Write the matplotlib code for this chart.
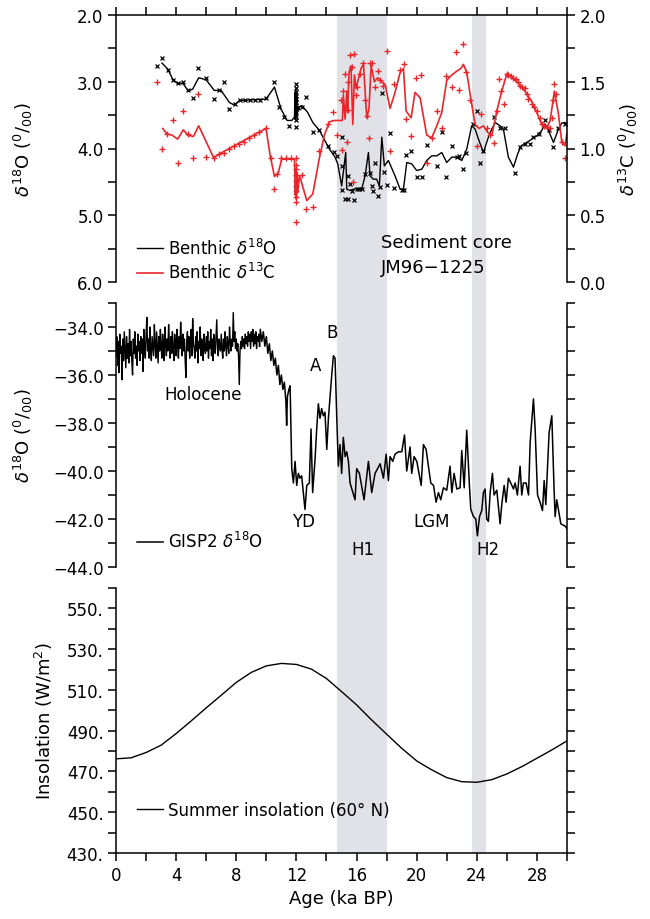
#!/usr/bin/env python3
#
# Benthic isotopes (JM96-1225), GISP2 d18O and 60N summer insolation, last 30 ka
#
# Outputs: out.png

import numpy as np
import matplotlib
matplotlib.use('Agg')
import matplotlib.pyplot as plt
from matplotlib.patches import Rectangle
from matplotlib.lines import Line2D
from matplotlib import transforms
from matplotlib.ticker import FixedLocator, FuncFormatter

# ---- Heinrich events (ka BP) ----
heinrich_events = [(14.7, 18.0), (23.7, 24.6)]

# ---- Sediment core, benthic d18O: smoothed line ----
o18_line_age = [3.06, 3.44, 3.77, 4.10, 4.44, 4.81, 5.10, 5.50, 5.99, 6.54,
                6.99, 7.54, 7.87, 8.21, 9.98, 10.54, 10.98, 11.38, 11.69, 11.87,
                11.91, 11.93, 11.95, 11.98, 12.00, 12.02, 12.04, 12.07, 12.11, 12.38,
                12.75, 13.09, 13.53, 14.20, 14.57, 14.75, 15.01, 15.28, 15.35, 15.57,
                15.79, 16.01, 16.34, 16.57, 16.79, 16.90, 17.12, 17.34, 17.52, 17.68,
                17.85, 18.12, 18.56, 18.90, 19.12, 19.34, 19.67, 20.00, 20.34, 20.67,
                21.00, 21.34, 21.67, 22.00, 22.33, 22.67, 23.00, 23.33, 23.66, 23.89,
                24.11, 24.44, 24.77, 25.00, 25.22, 25.55, 25.77, 26.10, 26.44, 26.72,
                26.95, 27.32, 27.66, 27.99, 28.32, 28.54, 28.77, 29.10, 29.43, 29.65,
                29.87, 30.00]
o18_line_val = [2.72, 2.81, 2.96, 3.03, 3.02, 3.14, 3.11, 2.94, 2.97, 3.13,
                3.13, 3.31, 3.35, 3.28, 3.26, 3.08, 3.41, 3.58, 3.58, 3.53,
                3.16, 3.56, 3.11, 3.53, 3.18, 3.51, 3.23, 3.46, 3.38, 3.36,
                3.46, 3.61, 3.73, 4.01, 4.13, 4.23, 4.56, 4.06, 4.61, 4.63,
                4.61, 4.60, 4.61, 4.41, 4.06, 4.41, 4.46, 4.46, 4.56, 3.83,
                4.26, 4.18, 4.41, 4.61, 4.61, 4.21, 4.23, 4.33, 4.31, 4.18,
                4.11, 4.11, 4.06, 4.21, 4.13, 4.13, 4.18, 4.01, 3.66, 3.71,
                3.86, 4.06, 3.83, 3.71, 3.61, 3.66, 3.71, 4.13, 4.28, 4.08,
                3.96, 3.91, 3.86, 3.81, 3.73, 3.63, 3.73, 3.91, 3.71, 3.62,
                3.61, 3.66]

# ---- benthic d18O: measurements ----
o18_pt_age = [2.71, 3.06, 3.44, 3.77, 4.10, 4.44, 4.77, 5.15, 5.48, 5.99,
              6.50, 6.88, 7.16, 7.54, 7.92, 8.25, 8.58, 8.91, 9.25, 9.58,
              9.98, 10.51, 10.87, 11.20, 11.53, 11.98, 11.98, 11.98, 11.98, 11.98,
              11.98, 11.98, 11.98, 11.98, 11.98, 11.98, 11.98, 12.10, 12.38, 12.64,
              13.09, 13.53, 14.08, 14.53, 14.68, 15.01, 15.06, 15.01, 15.24, 15.41,
              15.46, 15.57, 15.68, 15.86, 16.01, 16.17, 16.34, 16.57, 16.90, 17.01,
              17.12, 17.25, 17.41, 17.56, 17.68, 17.83, 18.01, 18.23, 18.52, 19.01,
              19.18, 19.27, 19.63, 20.00, 20.34, 20.67, 21.34, 21.71, 21.93, 22.38,
              22.67, 22.82, 23.09, 23.26, 23.77, 23.99, 24.22, 24.44, 25.17, 25.55,
              25.88, 26.55, 26.88, 27.21, 27.55, 27.77, 28.14, 28.54, 28.77, 29.10,
              29.39, 29.87]
o18_pt_val = [2.77, 2.65, 2.83, 2.97, 3.02, 3.01, 3.13, 3.24, 2.79, 2.94,
              3.26, 3.13, 3.01, 3.41, 3.33, 3.27, 3.27, 3.27, 3.27, 3.27,
              3.25, 3.00, 3.38, 3.53, 3.66, 3.03, 3.10, 3.16, 3.21, 3.26,
              3.31, 3.36, 3.41, 3.46, 3.53, 3.58, 3.68, 3.40, 3.38, 3.23,
              3.75, 3.72, 3.96, 4.05, 4.11, 3.83, 4.26, 4.62, 4.76, 4.75,
              4.41, 4.53, 4.63, 4.77, 4.61, 4.61, 4.61, 4.38, 4.37, 4.56,
              4.64, 4.22, 4.71, 4.58, 3.17, 4.35, 4.55, 3.77, 4.59, 4.62,
              4.62, 4.09, 4.04, 4.43, 4.43, 3.95, 4.26, 3.76, 4.43, 3.97,
              4.13, 4.11, 4.31, 4.06, 3.63, 3.44, 4.22, 4.03, 3.53, 3.70,
              3.70, 4.36, 3.98, 3.93, 3.93, 3.83, 3.78, 3.58, 3.73, 3.98,
              3.69, 3.63]

# ---- benthic d13C: smoothed line ----
c13_line_age = [3.11, 3.37, 3.73, 4.10, 4.48, 4.77, 5.15, 5.50, 6.50, 6.88,
                9.98, 10.25, 10.54, 10.80, 11.02, 11.87, 11.93, 11.98, 12.00, 12.04,
                12.09, 12.20, 12.69, 13.09, 13.53, 13.86, 14.20, 14.53, 15.06, 15.12,
                15.24, 15.35, 15.41, 15.50, 15.63, 15.75, 15.86, 15.97, 16.12, 16.30,
                16.46, 16.68, 16.83, 16.97, 17.19, 17.41, 17.68, 17.90, 18.23, 18.56,
                18.90, 19.12, 19.30, 19.63, 19.89, 20.23, 20.67, 21.00, 21.34, 21.67,
                22.00, 22.33, 22.67, 22.95, 23.11, 23.33, 23.62, 23.89, 24.15, 24.44,
                24.73, 25.00, 25.33, 25.66, 26.00, 26.33, 26.66, 26.99, 27.32, 27.66,
                27.99, 28.32, 28.65, 28.88, 29.16, 29.43, 29.65, 29.87, 30.00]
c13_line_val = [1.15, 1.11, 1.10, 1.07, 1.14, 1.10, 1.09, 1.17, 0.93, 0.96,
                1.15, 0.95, 0.79, 0.82, 0.92, 0.92, 0.65, 0.85, 0.62, 0.82,
                0.67, 0.80, 0.61, 0.66, 0.93, 1.10, 1.20, 1.21, 1.21, 1.40,
                1.22, 1.43, 1.27, 1.57, 1.62, 1.18, 1.55, 1.45, 1.52, 1.60,
                1.63, 1.23, 1.30, 1.62, 1.50, 1.53, 1.50, 1.48, 1.30, 1.42,
                1.57, 1.60, 1.28, 1.23, 1.42, 1.38, 1.10, 1.08, 1.17, 1.27,
                1.51, 1.55, 1.58, 1.60, 1.63, 1.57, 1.36, 1.18, 1.15, 1.17,
                1.12, 1.10, 1.28, 1.43, 1.56, 1.53, 1.50, 1.46, 1.41, 1.35,
                1.27, 1.18, 1.15, 1.21, 1.43, 1.26, 1.05, 1.02, 1.12]

# ---- benthic d13C: measurements ----
c13_pt_age = [2.71, 3.06, 3.37, 3.77, 4.10, 4.44, 4.77, 5.15, 5.48, 5.99,
              6.50, 6.88, 7.21, 7.54, 7.87, 8.21, 8.54, 8.87, 9.20, 9.54,
              9.98, 10.31, 10.54, 10.71, 10.98, 11.31, 11.64, 11.98, 11.98, 11.98,
              11.98, 11.98, 11.98, 11.98, 11.98, 11.98, 11.98, 12.35, 12.64, 13.09,
              13.53, 14.08, 14.42, 14.68, 14.97, 15.06, 15.12, 15.24, 15.35, 15.46,
              15.57, 15.86, 15.68, 15.41, 15.95, 16.01, 16.23, 16.46, 16.57, 16.68,
              16.85, 15.79, 16.90, 17.01, 17.23, 17.41, 17.56, 17.79, 18.01, 18.23,
              18.52, 18.90, 19.18, 19.27, 19.63, 19.96, 20.29, 20.67, 21.00, 21.34,
              21.67, 21.93, 22.38, 22.60, 22.84, 23.06, 23.29, 23.55, 24.00, 24.26,
              24.66, 24.88, 25.17, 25.33, 25.50, 25.62, 25.84, 25.99, 26.10, 26.28,
              26.44, 26.59, 26.77, 26.88, 27.04, 27.21, 27.32, 27.43, 27.66, 27.83,
              27.99, 28.21, 28.32, 28.50, 28.65, 28.88, 29.16, 29.10, 28.99, 29.25,
              29.65, 29.87]
c13_pt_val = [1.50, 1.00, 1.11, 1.21, 0.89, 1.28, 1.11, 0.93, 1.41, 0.94,
              0.93, 0.96, 0.97, 1.00, 1.02, 1.03, 1.05, 1.08, 1.10, 1.12,
              1.15, 0.93, 0.70, 0.81, 0.93, 0.93, 0.93, 0.93, 0.88, 0.85,
              0.80, 0.76, 0.72, 0.68, 0.64, 0.60, 0.45, 0.80, 0.55, 0.56,
              0.98, 1.18, 1.27, 1.10, 1.36, 0.99, 1.43, 1.56, 1.05, 1.29,
              1.70, 1.71, 1.61, 1.50, 1.40, 1.46, 1.56, 1.64, 1.36, 1.24,
              1.08, 0.75, 1.64, 1.64, 1.46, 1.58, 1.51, 1.47, 1.73, 0.98,
              1.48, 1.59, 1.63, 1.22, 1.09, 1.53, 1.55, 0.89, 1.08, 1.28,
              1.15, 1.54, 1.46, 1.72, 1.44, 1.78, 1.57, 1.36, 1.02, 1.26,
              1.15, 1.10, 1.04, 1.28, 1.52, 1.43, 1.33, 1.56, 1.55, 1.54,
              1.53, 1.52, 1.50, 1.47, 1.46, 1.45, 1.41, 1.37, 1.33, 1.31,
              1.28, 1.23, 1.18, 1.17, 1.16, 1.15, 1.48, 1.36, 1.23, 1.41,
              1.05, 0.93]

# ---- GISP2 d18O, Holocene part: 0.05 ka sampling from 0 ka ----
gisp2_holo_val = [
    -35.2, -34.4, -35.6, -34.6, -35.9, -34.3, -35.1, -34.8, -36.2, -34.5,
    -35.4, -34.2, -35.0, -35.7, -34.4, -35.3, -34.7, -35.5, -34.1, -35.2,
    -34.6, -35.4, -36.0, -34.5, -35.1, -34.2, -35.3, -34.8, -35.6, -34.3,
    -35.0, -34.6, -35.4, -34.4, -35.1, -34.5, -35.85, -34.1, -34.9, -35.3,
    -34.3, -33.6, -35.0, -34.5, -35.3, -34.0, -34.9, -35.4, -34.4, -34.8,
    -35.2, -33.9, -34.7, -35.3, -34.2, -34.9, -35.5, -34.4, -35.0, -34.1,
    -34.8, -35.3, -34.3, -34.9, -35.4, -34.0, -34.7, -35.2, -34.5, -35.0,
    -33.9, -34.8, -35.3, -34.4, -35.1, -34.2, -34.9, -35.4, -34.3, -34.7,
    -35.2, -34.1, -34.8, -35.3, -34.4, -34.9, -33.8, -34.6, -35.2, -34.3,
    -35.0, -34.5, -35.4, -36.1, -34.6, -34.2, -35.0, -34.4, -35.3, -34.6,
    -34.1, -35.2, -33.65, -34.7, -34.9, -35.3, -34.4, -35.0, -34.2, -35.5,
    -34.6, -34.9, -34.0, -35.2, -34.5, -34.8, -35.4, -34.3, -34.9, -35.1,
    -34.4, -35.0, -34.2, -35.3, -34.6, -34.9, -34.1, -35.2, -34.5, -35.4,
    -34.3, -34.8, -35.1, -34.4, -33.7, -34.9, -35.2, -34.5, -34.8, -35.0,
    -34.3, -34.9, -35.3, -34.5, -35.0, -34.2, -34.8, -35.2, -34.4, -34.7,
    -35.1, -34.0, -34.6, -35.0, -34.5, -34.8, -33.4, -34.6, -34.2, -34.9,
    -34.5, -35.0, -34.7, -35.2, -36.4, -35.0, -34.6, -34.9, -34.4, -34.8,
    -34.5, -34.9, -34.3, -34.7, -34.4, -34.8, -34.2, -34.6, -34.3, -34.9,
    -34.2, -34.6, -34.1, -34.8, -34.3, -34.7, -34.2, -34.9, -34.4, -34.6,
    -34.3, -34.8]

# ---- GISP2 d18O, deglacial and glacial part ----
gisp2_age = [9.60, 9.70, 9.80, 9.90, 10.00, 10.10, 10.20, 10.30, 10.40, 10.50,
             10.60, 10.70, 10.80, 10.90, 11.00, 11.10, 11.20, 11.30, 11.35, 11.40,
             11.50, 11.58, 11.69, 11.80, 11.91, 12.02, 12.13, 12.24, 12.35, 12.46,
             12.57, 12.69, 12.86, 12.97, 13.08, 13.24, 13.35, 13.46, 13.57, 13.68,
             13.79, 13.90, 14.02, 14.13, 14.24, 14.35, 14.46, 14.57, 14.68, 14.79,
             14.90, 15.01, 15.12, 15.24, 15.35, 15.46, 15.57, 15.90, 16.01, 16.19,
             16.50, 16.79, 17.01, 17.23, 17.57, 17.79, 17.97, 18.12, 18.23, 18.41,
             18.56, 18.79, 19.01, 19.19, 19.34, 19.56, 19.67, 19.83, 20.01, 20.30,
             20.45, 20.63, 20.78, 20.94, 21.12, 21.29, 21.45, 21.60, 21.78, 22.00,
             22.22, 22.34, 22.49, 22.67, 22.89, 23.00, 23.16, 23.33, 23.51, 23.60,
             23.78, 23.93, 24.04, 24.18, 24.33, 24.44, 24.55, 24.66, 24.77, 24.89,
             25.04, 25.15, 25.33, 25.55, 25.66, 25.82, 25.95, 26.10, 26.26, 26.44,
             26.55, 26.70, 26.88, 26.99, 27.10, 27.28, 27.44, 27.55, 27.77, 27.88,
             28.04, 28.21, 28.37, 28.48, 28.59, 28.81, 28.99, 29.14, 29.21, 29.32,
             29.43, 29.59, 29.88, 30.00]
gisp2_val = [-34.1, -34.6, -34.2, -34.8, -34.4, -35.1, -34.7, -35.4, -35.0, -35.6,
             -35.3, -36.0, -35.6, -36.4, -36.0, -36.6, -36.3, -37.1, -38.1, -36.9,
             -36.6, -36.45, -39.9, -40.5, -39.6, -40.6, -40.1, -40.3, -40.2, -40.9,
             -41.6, -40.6, -40.5, -38.25, -40.9, -39.5, -38.25, -37.2, -37.8, -37.4,
             -37.7, -37.55, -39.1, -37.8, -36.9, -36.0, -35.2, -35.3, -37.7, -39.8,
             -38.9, -40.1, -38.6, -39.4, -39.2, -39.6, -40.5, -41.2, -39.9, -40.1,
             -41.2, -39.6, -40.9, -40.1, -39.7, -40.3, -39.3, -40.4, -39.4, -39.6,
             -39.3, -39.2, -39.2, -38.5, -40.0, -39.0, -40.1, -39.4, -39.6, -40.6,
             -38.9, -39.1, -39.8, -40.5, -40.6, -41.3, -40.9, -41.2, -40.7, -40.8,
             -39.8, -40.9, -40.1, -40.75, -40.7, -39.15, -40.7, -38.3, -40.6, -41.6,
             -41.9, -42.0, -42.7, -41.9, -41.65, -40.9, -40.75, -42.0, -42.1, -40.9,
             -40.1, -41.0, -40.8, -42.2, -41.4, -40.6, -41.3, -40.3, -40.5, -40.75,
             -40.5, -41.0, -39.8, -41.0, -40.5, -40.5, -41.0, -38.8, -37.0, -38.25,
             -41.0, -41.3, -41.65, -40.4, -41.4, -38.4, -37.7, -40.75, -41.9, -41.2,
             -41.6, -42.2, -42.3, -42.4]

# ---- Summer insolation at 60N (W/m2) ----
insol_age = [0, 1, 2, 3, 4, 5, 6, 7, 8, 9, 10, 11, 12, 13, 14, 15,
             16, 17, 18, 19, 20, 21, 22, 23, 24, 25, 26, 27, 28, 29, 30]
insol_val = [476.2, 476.7, 479.3, 482.9, 488.6, 494.8, 501.2, 507.4, 513.7, 518.6,
             521.8, 523.0, 522.5, 520.2, 515.6, 509.2, 502.7, 495.3, 488.3, 481.4,
             475.2, 470.8, 467.0, 465.0, 464.7, 466.0, 468.8, 472.4, 476.5, 480.6,
             485.0]

RED = '#e8262b'
BAND = '#e1e2e7'
FS = 12

plt.rcParams['font.family'] = ['DejaVu Sans']
plt.rcParams['font.size'] = FS
plt.rcParams['axes.linewidth'] = 1.1
plt.rcParams['xtick.major.width'] = 1.1
plt.rcParams['ytick.major.width'] = 1.1
plt.rcParams['xtick.major.size'] = 5.5
plt.rcParams['ytick.major.size'] = 5.5
plt.rcParams['xtick.direction'] = 'out'
plt.rcParams['ytick.direction'] = 'out'


def every(step, fmt, minus=False):
    def f(v, pos):
        if abs(v / step - round(v / step)) > 1e-6:
            return ''
        s = fmt.format(v)
        if minus:
            s = s.replace('-', '\u2212')
        return s
    return FuncFormatter(f)


def main():
    fig = plt.figure(figsize=(6.5, 9.2), dpi=100)
    L, W = 0.1785, 0.6938
    ax_top = fig.add_axes([L, 0.6924, W, 0.2902])
    ax_mid = fig.add_axes([L, 0.3826, W, 0.2870])
    ax_bot = fig.add_axes([L, 0.0717, W, 0.2881])
    ax_c13 = ax_top.twinx()

    for ax in (ax_top, ax_mid, ax_bot):
        ax.set_facecolor('none')
        ax.set_xlim(0, 30)
        ax.xaxis.set_major_locator(FixedLocator(np.arange(0, 31, 2)))

    # shaded Heinrich events, continuous over all three panels
    trans = transforms.blended_transform_factory(ax_bot.transData, fig.transFigure)
    for a0, a1 in heinrich_events:
        fig.patches.append(Rectangle((a0, 0.0717), a1 - a0, 0.9826 - 0.0717,
                                     transform=trans, facecolor=BAND,
                                     edgecolor='none', zorder=-1))

    # ---- top panel: sediment core ----
    holo_age = np.round(np.arange(len(gisp2_holo_val)) * 0.05, 2)

    ax_top.plot(o18_line_age, o18_line_val, color='k', lw=1.0)
    ax_top.plot(o18_pt_age, o18_pt_val, ls='none', marker='x', ms=3.0,
                mew=0.9, color='k')
    ax_c13.plot(c13_line_age, c13_line_val, color=RED, lw=1.2)
    ax_c13.plot(c13_pt_age, c13_pt_val, ls='none', marker='+', ms=5.0,
                mew=1.0, color=RED)

    ax_top.set_ylim(6.0, 2.0)
    ax_top.yaxis.set_major_locator(FixedLocator(np.arange(2.0, 6.01, 0.5)))
    ax_top.yaxis.set_major_formatter(every(1.0, '{:.1f}'))
    ax_c13.set_ylim(0.0, 2.0)
    ax_c13.yaxis.set_major_locator(FixedLocator(np.arange(0.0, 2.01, 0.25)))
    ax_c13.yaxis.set_major_formatter(every(0.5, '{:.1f}'))

    ax_top.spines['bottom'].set_visible(False)
    ax_top.spines['right'].set_visible(False)
    for s in ('left', 'top', 'bottom'):
        ax_c13.spines[s].set_visible(False)
    ax_top.xaxis.set_ticks_position('top')
    ax_top.tick_params(axis='x', labeltop=False, labelbottom=False)

    ax_top.set_ylabel(r'$\delta^{18}$O ($^{0}$/$_{00}$)', fontsize=13)
    ax_top.yaxis.set_label_coords(-0.18, 0.5)
    ax_c13.set_ylabel(r'$\delta^{13}$C ($^{0}$/$_{00}$)', fontsize=13,
                      rotation=90, va='top')
    ax_c13.yaxis.set_label_coords(1.11, 0.5)

    ax_top.legend([Line2D([], [], color='k', lw=1.0),
                   Line2D([], [], color=RED, lw=1.2)],
                  [r'Benthic $\delta^{18}$O', r'Benthic $\delta^{13}$C'],
                  loc='lower left', bbox_to_anchor=(0.02, -0.045),
                  frameon=False, handlelength=1.6, handletextpad=0.3,
                  labelspacing=0.25, borderpad=0.2, fontsize=FS)
    ax_top.text(17.65, 5.40, 'Sediment core', fontsize=13, va='center')
    ax_top.text(17.65, 5.78, 'JM96\u22121225', fontsize=13, va='center')

    # ---- middle panel: GISP2 ----
    ax_mid.plot(holo_age, gisp2_holo_val, color='k', lw=1.0)
    ax_mid.plot(np.r_[holo_age[-1], gisp2_age], np.r_[gisp2_holo_val[-1], gisp2_val],
                color='k', lw=1.1, label=r'GISP2 $\delta^{18}$O')
    ax_mid.set_ylim(-44, -33)
    ax_mid.yaxis.set_major_locator(FixedLocator(np.arange(-44, -32.9, 1.0)))
    ax_mid.yaxis.set_major_formatter(every(2.0, '{:.1f}', minus=True))
    ax_mid.spines['top'].set_visible(False)
    ax_mid.spines['bottom'].set_visible(False)
    ax_mid.tick_params(axis='x', bottom=False, labelbottom=False)
    ax_mid.tick_params(axis='y', left=True, right=True, labelright=False)
    ax_mid.set_ylabel(r'$\delta^{18}$O ($^{0}$/$_{00}$)', fontsize=13)
    ax_mid.yaxis.set_label_coords(-0.18, 0.5)
    ax_mid.legend(loc='lower left', bbox_to_anchor=(0.02, 0.015), frameon=False,
                  handlelength=1.6, handletextpad=0.3, borderpad=0.2, fontsize=FS)

    for txt, x, y in [('Holocene', 5.8, -36.8), ('A', 13.3, -35.6), ('B', 14.4, -34.2),
                      ('YD', 12.45, -42.1), ('H1', 16.4, -43.25),
                      ('LGM', 21.0, -42.1), ('H2', 24.75, -43.25)]:
        ax_mid.text(x, y, txt, ha='center', va='center', fontsize=FS)

    # ---- bottom panel: insolation ----
    ax_bot.plot(insol_age, insol_val, color='k', lw=1.0,
                label='Summer insolation (60\u00b0 N)')
    ax_bot.set_ylim(430, 560)
    ax_bot.yaxis.set_major_locator(FixedLocator(np.arange(430, 561, 10)))
    ax_bot.yaxis.set_major_formatter(
        FuncFormatter(lambda v, p: '{:.0f}.'.format(v) if (v - 430) % 20 == 0 else ''))
    ax_bot.xaxis.set_major_formatter(every(4, '{:.0f}'))
    ax_bot.spines['top'].set_visible(False)
    ax_bot.tick_params(axis='y', left=True, right=True, labelright=False)
    ax_bot.set_ylabel(r'Insolation (W/m$^2$)', fontsize=13)
    ax_bot.yaxis.set_label_coords(-0.135, 0.5)
    ax_bot.set_xlabel('Age (ka BP)', fontsize=13)
    ax_bot.legend(loc='lower left', bbox_to_anchor=(0.02, 0.085), frameon=False,
                  handlelength=1.6, handletextpad=0.3, borderpad=0.2, fontsize=FS)

    fig.savefig('out.png', dpi=100)


if __name__ == '__main__':
    main()
